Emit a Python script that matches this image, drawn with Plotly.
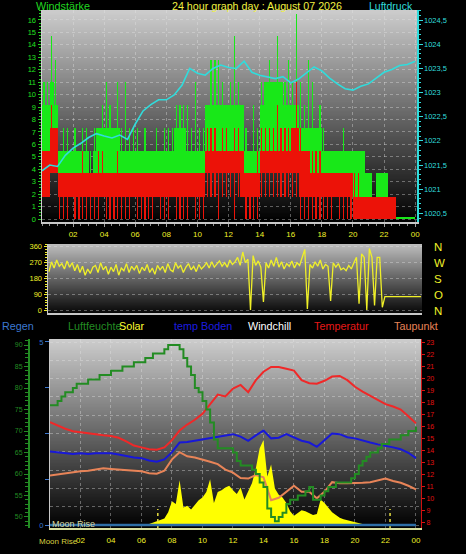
import base64
import struct
import zlib

import plotly.graph_objects as go

W, H = 466, 554

# ---------------- data ----------------
hour_ticks = [2, 4, 6, 8, 10, 12, 14, 16, 18, 20, 22, 24]
hour_labels = ["02", "04", "06", "08", "10", "12", "14", "16", "18", "20", "22", "00"]

# wind (km/h) in 15-minute bins: gust envelope + peaks, average envelope + min/peaks
wind_time = [i * 0.25 + 0.125 for i in range(96)]
gust_low = [5.5, 5.5, 5.5, 5.5, 3.7, 3.7, 3.7, 3.7, 3.7, 3.7, 3.7, 1.8, 1.8, 3.7, 3.7, 3.7,
            3.7, 3.7, 3.7, 3.7, 3.7, 3.7, 3.7, 3.7, 3.7, 3.7, 3.7, 3.7, 3.7, 3.7, 3.7, 3.7,
            3.7, 3.7, 3.7, 3.7, 3.7, 3.7, 3.7, 3.7, 3.7, 3.7, 5.5, 5.5, 5.5, 5.5, 5.5, 5.5,
            5.5, 5.5, 5.5, 5.5, 3.7, 3.7, 3.7, 3.7, 5.5, 5.5, 5.5, 5.5, 5.5, 5.5, 5.5, 5.5,
            5.5, 5.5, 3.7, 3.7, 3.7, 3.7, 3.7, 3.7, 3.7, 3.7, 3.7, 3.7, 3.7, 3.7, 3.7, 3.7,
            1.8, 1.8, 1.8, 1.8, 1.8, 1.5, 1.8, 1.8, 1.8, 1.5, 1.5, 0, 0, 0, 0, 0]
gust_high = [9.2, 9.2, 11.0, 9.2, 5.5, 5.5, 5.5, 5.5, 5.5, 5.5, 5.5, 5.5, 3.7, 5.5, 7.3, 7.3,
             7.3, 7.3, 7.3, 7.3, 5.5, 5.5, 5.5, 5.5, 5.5, 5.5, 5.5, 5.5, 5.5, 5.5, 5.5, 5.5,
             5.5, 5.5, 7.3, 7.3, 7.3, 5.5, 5.5, 5.5, 5.5, 5.5, 9.2, 9.2, 9.2, 9.2, 9.2, 9.2,
             9.2, 9.2, 9.2, 9.2, 5.5, 5.5, 5.5, 5.5, 9.2, 11.0, 11.0, 11.0, 11.0, 11.0, 9.2, 9.2,
             9.2, 9.2, 7.3, 7.3, 7.3, 7.3, 7.3, 7.3, 5.5, 5.5, 5.5, 5.5, 5.5, 5.5, 5.5, 5.5,
             5.5, 5.5, 5.5, 3.7, 3.7, 1.8, 3.7, 3.7, 3.7, 1.8, 1.8, 0.2, 0.2, 0.2, 0.2, 0.2]
gust_peak = [11.0, 11.0, 14.7, 12.8, 5.5, 7.3, 7.3, 5.5, 7.3, 5.5, 7.3, 7.3, 5.5, 7.3, 7.3, 9.2,
             11.0, 9.2, 7.3, 11.0, 7.3, 11.0, 7.3, 7.3, 7.3, 5.5, 7.3, 5.5, 5.5, 7.3, 5.5, 7.3,
             7.3, 7.3, 9.2, 9.2, 9.2, 9.2, 7.3, 11.0, 7.3, 7.3, 9.2, 12.8, 12.8, 12.8, 11.0, 9.2,
             11.0, 14.7, 11.0, 9.2, 7.3, 5.5, 9.2, 7.3, 11.0, 11.0, 12.8, 11.0, 14.7, 11.0, 11.0, 12.8,
             11.0, 16.5, 11.0, 9.2, 12.8, 11.0, 7.3, 9.2, 7.3, 5.5, 5.5, 5.5, 5.5, 7.3, 5.5, 5.5,
             5.5, 5.5, 5.5, 3.7, 3.7, 1.8, 3.7, 3.7, 3.7, 1.8, 1.8, 0.2, 0.2, 0.2, 0.2, 0.2]
avg_min = [1.8, 1.8, 3.7, 3.7, 0, 0, 0, 1.8, 0, 0, 0, 0, 0, 0, 0, 1.8,
           0, 0, 0, 0, 0, 0, 0, 1.8, 0, 0, 0, 0, 0, 1.8, 0, 0,
           0, 1.8, 0, 0, 0, 0, 1.8, 0, 0, 0, 1.8, 1.8, 1.8, 0, 1.8, 1.8,
           1.8, 0, 1.8, 1.8, 0, 0, 0, 0, 1.8, 1.8, 1.8, 1.8, 1.8, 1.8, 1.8, 1.8,
           1.8, 1.8, 0, 0, 0, 0, 0, 0, 0, 0, 0, 1.8, 0, 0, 0, 0,
           0, 0, 0, 0, 0, 0, 0, 0, 0, 0, 0, 0, 0, 0, 0, 0]
avg_low = [1.8, 1.8, 3.7, 3.7, 1.8, 1.8, 1.8, 1.8, 1.8, 1.8, 1.8, 1.8, 1.8, 1.8, 1.8, 1.8,
           1.8, 1.8, 1.8, 1.8, 1.8, 1.8, 1.8, 1.8, 1.8, 1.8, 1.8, 1.8, 1.8, 1.8, 1.8, 1.8,
           1.8, 1.8, 1.8, 1.8, 1.8, 1.8, 1.8, 1.8, 1.8, 1.8, 3.7, 3.7, 3.7, 3.7, 3.7, 3.7,
           3.7, 3.7, 3.7, 1.8, 1.8, 1.8, 1.8, 1.8, 3.7, 3.7, 3.7, 3.7, 3.7, 3.7, 3.7, 3.7,
           3.7, 3.7, 1.8, 1.8, 1.8, 1.8, 1.8, 1.8, 1.8, 1.8, 1.8, 1.8, 1.8, 1.8, 1.8, 1.8,
           0, 0, 0, 0, 0, 0, 0, 0, 0, 0, 0, 0, 0, 0, 0, 0]
avg_high = [5.5, 5.5, 7.3, 7.3, 3.7, 3.7, 3.7, 3.7, 3.7, 3.7, 3.7, 3.7, 3.7, 3.7, 3.7, 3.7,
            3.7, 3.7, 3.7, 3.7, 3.7, 3.7, 3.7, 3.7, 3.7, 3.7, 3.7, 3.7, 3.7, 3.7, 3.7, 3.7,
            3.7, 3.7, 3.7, 3.7, 3.7, 3.7, 3.7, 3.7, 3.7, 3.7, 5.5, 5.5, 5.5, 5.5, 5.5, 5.5,
            5.5, 5.5, 5.5, 5.5, 3.7, 3.7, 3.7, 3.7, 5.5, 5.5, 5.5, 5.5, 5.5, 5.5, 5.5, 5.5,
            7.3, 7.3, 5.5, 5.5, 5.5, 3.7, 3.7, 3.7, 3.7, 3.7, 3.7, 3.7, 3.7, 3.7, 3.7, 3.7,
            1.8, 1.8, 1.8, 1.8, 1.8, 1.8, 1.8, 1.8, 1.8, 1.8, 1.8, 0, 0, 0, 0, 0]
avg_peak = [5.5, 5.5, 9.2, 7.3, 3.7, 3.7, 3.7, 3.7, 3.7, 3.7, 5.5, 3.7, 3.7, 3.7, 5.5, 5.5,
            3.7, 3.7, 3.7, 5.5, 3.7, 3.7, 3.7, 3.7, 3.7, 3.7, 3.7, 3.7, 3.7, 3.7, 3.7, 3.7,
            3.7, 3.7, 3.7, 3.7, 3.7, 3.7, 3.7, 3.7, 3.7, 3.7, 7.3, 7.3, 7.3, 5.5, 7.3, 7.3,
            5.5, 7.3, 7.3, 5.5, 3.7, 3.7, 3.7, 5.5, 7.3, 7.3, 7.3, 7.3, 9.2, 7.3, 7.3, 7.3,
            7.3, 11.0, 7.3, 5.5, 5.5, 5.5, 5.5, 5.5, 3.7, 3.7, 3.7, 3.7, 3.7, 3.7, 3.7, 3.7,
            3.7, 3.7, 1.8, 1.8, 1.8, 1.8, 1.8, 1.8, 1.8, 1.8, 1.8, 0, 0, 0, 0, 0]

# pressure (hPa), half-hourly
half_hours = [i * 0.5 for i in range(49)]
pressure = [1021.38, 1021.50, 1021.47, 1021.70, 1021.85, 1021.95, 1022.07, 1022.15, 1022.10, 1022.06,
            1022.12, 1022.03, 1022.35, 1022.62, 1022.75, 1022.85, 1022.85, 1022.95, 1023.15, 1023.50,
            1023.40, 1023.36, 1023.50, 1023.57, 1023.52, 1023.50, 1023.65, 1023.42, 1023.36, 1023.32,
            1023.29, 1023.33, 1023.20, 1023.28, 1023.40, 1023.53, 1023.45, 1023.30, 1023.18, 1023.08,
            1023.05, 1023.13, 1023.18, 1023.30, 1023.42, 1023.48, 1023.56, 1023.58, 1023.65]

# wind direction (deg), every 10 minutes
dir_time = [i / 6 for i in range(145)]
wind_dir = [220, 275, 240, 285, 250, 265, 235, 280, 245, 270, 225, 260,
            215, 250, 200, 235, 210, 245, 255, 215, 270, 230, 250, 205,
            245, 220, 260, 200, 240, 225, 265, 215, 250, 230, 255, 210,
            245, 225, 260, 215, 240, 205, 255, 230, 250, 215, 265, 230,
            220, 270, 240, 255, 215, 245, 265, 230, 250, 220, 260, 235,
            250, 270, 240, 275, 245, 260, 280, 250, 270, 245, 285, 260,
            275, 300, 255, 330, 270, 290, 5, 310, 255, 280, 245, 50,
            270, 240, 285, 250, 300, 245, 275, 235, 265, 250, 280, 240,
            270, 255, 300, 345, 10, 260, 240, 275, 250, 285, 235, 260,
            250, 55, 270, 245, 265, 230, 240, 225, 255, 235, 270, 300,
            40, 320, 300, 5, 350, 300, 30, 300, 300, 20, 80, 80,
            80, 80, 80, 80, 80, 80, 80, 80, 80, 80, 80, 80, 80]
compass_vals = [0, 90, 180, 270, 360]
compass_text = ["N", "O", "S", "W", "N"]

# bottom panel, half-hourly temperatures (deg C)
temperatur = [16.4, 16.1, 15.85, 15.65, 15.55, 15.45, 15.4, 15.3, 15.25, 15.1, 14.8, 14.45, 14.3,
              14.15, 14.1, 14.3, 14.9, 15.7, 16.2, 16.6, 17.1, 17.9, 18.7, 18.55, 19.2, 19.5, 18.9,
              19.9, 20.6, 21.0, 21.0, 20.85, 20.7, 19.9, 19.65, 19.6, 19.85, 20.2, 20.25, 19.9, 19.35,
              18.95, 18.6, 18.25, 17.9, 17.7, 17.45, 16.9, 16.3]
temp_boden = [13.95, 13.9, 13.85, 13.75, 13.8, 13.75, 13.8, 13.8, 13.8, 13.7, 13.55, 13.45, 13.4,
              13.2, 13.1, 13.3, 13.9, 14.7, 14.75, 14.85, 14.95, 15.1, 15.2, 15.25, 15.4, 15.2, 14.85,
              15.3, 15.7, 15.05, 15.1, 15.4, 15.1, 14.85, 14.7, 14.35, 14.9, 15.45, 15.4, 15.15, 15.05,
              14.85, 14.7, 14.55, 14.45, 14.3, 14.15, 13.85, 13.4]
taupunkt = [11.95, 12.05, 12.15, 12.25, 12.3, 12.35, 12.45, 12.55, 12.5, 12.45, 12.4, 12.35, 12.3,
            12.15, 12.1, 12.35, 13.3, 13.9, 13.55, 13.45, 13.3, 13.1, 12.9, 12.45, 12.2, 11.75, 11.7,
            12.0, 11.8, 9.9, 10.1, 10.6, 11.1, 10.6, 10.6, 10.05, 10.6, 11.4, 11.3, 11.3, 11.3,
            11.35, 11.4, 11.55, 11.7, 11.5, 11.35, 11.1, 10.8]
# humidity (%), quarter-hourly
quarter_hours = [i * 0.25 for i in range(97)]
luftfeuchte = [76, 76, 77, 78, 79, 79, 80, 81, 81, 81, 82, 82, 82, 83, 83, 83,
               84, 84, 84, 85, 85, 85, 86, 86, 86, 87, 87, 88, 88, 88, 89, 90,
               90, 90, 89, 87, 85, 83, 80, 79, 77, 75, 72, 68, 66, 66, 66, 66,
               65, 63, 62, 62, 62, 61, 60, 58, 57, 52, 50, 49, 50, 51, 53, 54,
               54, 55, 55, 56, 57, 54, 54, 55, 56, 57, 57, 58, 58, 58, 58, 59,
               60, 62, 63, 64, 65, 65, 66, 67, 67, 68, 68, 68, 69, 69, 70, 70, 71]
# solar radiation (W/m2), quarter-hourly
solar = [0] * 25 + [0, 5, 12, 20, 25, 35, 70, 130, 115, 245, 95, 105, 85, 110, 135, 150,
                    180, 250, 120, 180, 190, 205, 215, 190, 170, 205, 140, 185, 230, 310, 420, 465,
                    265, 330, 200, 165, 150, 120, 75, 50, 65, 80, 75, 65, 55, 60, 140, 120,
                    95, 70, 55, 40, 32, 27, 22, 18, 10, 5, 0] + [0] * 13
regen_time = [0, 24]
regen = [0, 0]
moon_hours = [7.07, 22.3]

hum_ticks = [50, 55, 60, 65, 70, 75, 80, 85, 90]
temp_ticks = list(range(8, 24))
press_ticks = [1020.5, 1021, 1021.5, 1022, 1022.5, 1023, 1023.5, 1024, 1024.5]
press_text = ["1020,5", "1021", "1021,5", "1022", "1022,5", "1023", "1023,5", "1024", "1024,5"]

# ---------------- styles ----------------
FONT = "Liberation Sans, Arial, sans-serif"
GUST = "#18e818"
AVG = "#ec1208"
CYAN = "#30dcdc"
YEL = "#f0f028"
GRID = "rgba(230,230,230,0.38)"
C_REGEN = "#3c78d0"
C_HUM = "#238c23"
C_BODEN = "#1818d8"
C_TEMP = "#f02828"
C_TAU = "#e88458"


def px_x(v):
    return v / W


def px_y(v):
    return 1 - v / H


def gray_png(top, bottom, n=256):
    raw = b""
    for k in range(n):
        f = k / (n - 1)
        raw += b"\x00" + bytes([int(round(top + (bottom - top) * f))])

    def chunk(tag, data):
        c = struct.pack(">I", len(data)) + tag + data
        return c + struct.pack(">I", zlib.crc32(tag + data) & 0xFFFFFFFF)

    png = (b"\x89PNG\r\n\x1a\n"
           + chunk(b"IHDR", struct.pack(">IIBBBBB", 1, n, 8, 0, 0, 0, 0))
           + chunk(b"IDAT", zlib.compress(raw))
           + chunk(b"IEND", b""))
    return "data:image/png;base64," + base64.b64encode(png).decode()


def panel_bg(x0, x1, y0, y1, top, bottom):
    return dict(source=gray_png(top, bottom), xref="paper", yref="paper",
                x=px_x(x0), y=px_y(y0), sizex=px_x(x1) - px_x(x0), sizey=px_y(y0) - px_y(y1),
                sizing="stretch", xanchor="left", yanchor="top", layer="below")


fig = go.Figure()

# ---- panel 1: wind speed + pressure ----
fig.add_trace(go.Bar(
    x=wind_time, y=[h - l for h, l in zip(gust_high, gust_low)], base=gust_low, width=0.25,
    marker=dict(color=GUST, line=dict(width=0)),
    error_y=dict(type="data", symmetric=False,
                 array=[p - h for p, h in zip(gust_peak, gust_high)],
                 arrayminus=[0] * len(gust_high), color=GUST, thickness=1.2, width=0),
    xaxis="x", yaxis="y", hoverinfo="skip"))
fig.add_trace(go.Bar(
    x=wind_time, y=[h - l for h, l in zip(avg_high, avg_low)], base=avg_low, width=0.25,
    marker=dict(color=AVG, line=dict(width=0)),
    error_y=dict(type="data", symmetric=False,
                 array=[p - h for p, h in zip(avg_peak, avg_high)],
                 arrayminus=[h - m for h, m in zip(avg_high, avg_min)],
                 color=AVG, thickness=1.2, width=0),
    xaxis="x", yaxis="y", hoverinfo="skip"))
fig.add_trace(go.Scatter(x=half_hours, y=pressure, mode="lines",
                         line=dict(color=CYAN, width=1.6), xaxis="x", yaxis="y2", hoverinfo="skip"))

# ---- panel 2: wind direction ----
fig.add_trace(go.Scatter(x=dir_time, y=wind_dir, mode="lines",
                         line=dict(color=YEL, width=1.3), xaxis="x2", yaxis="y3", hoverinfo="skip"))
fig.add_trace(go.Scatter(x=[dir_time[0]], y=[wind_dir[0]], mode="markers",
                         marker=dict(opacity=0), xaxis="x2", yaxis="y4", hoverinfo="skip"))

# ---- panel 3 ----
fig.add_trace(go.Scatter(x=quarter_hours, y=solar, mode="lines", fill="tozeroy",
                         fillcolor="#ffff00", line=dict(color="#ffff00", width=0),
                         xaxis="x3", yaxis="y5", hoverinfo="skip"))
moon_x, moon_y = [], []
for m in moon_hours:
    moon_x += [m, m, None]
    moon_y += [-16, 88, None]
fig.add_trace(go.Scatter(x=moon_x, y=moon_y, mode="lines",
                         line=dict(color="#e8e040", width=1.5, dash="dot"),
                         xaxis="x3", yaxis="y5", hoverinfo="skip"))
fig.add_trace(go.Scatter(x=half_hours, y=temp_boden, mode="lines",
                         line=dict(color=C_BODEN, width=2), xaxis="x3", yaxis="y6", hoverinfo="skip"))
fig.add_trace(go.Scatter(x=half_hours, y=taupunkt, mode="lines",
                         line=dict(color=C_TAU, width=2), xaxis="x3", yaxis="y6", hoverinfo="skip"))
fig.add_trace(go.Scatter(x=half_hours, y=temperatur, mode="lines",
                         line=dict(color=C_TEMP, width=2), xaxis="x3", yaxis="y6", hoverinfo="skip"))
fig.add_trace(go.Scatter(x=quarter_hours, y=luftfeuchte, mode="lines", line_shape="hv",
                         line=dict(color=C_HUM, width=2), xaxis="x3", yaxis="y7", hoverinfo="skip"))
fig.add_trace(go.Scatter(x=regen_time, y=regen, mode="lines",
                         line=dict(color="#2e6ea6", width=2.5), xaxis="x3", yaxis="y8", hoverinfo="skip"))

images = [
    panel_bg(42, 417, 10, 222, 205, 0),
    panel_bg(48, 422, 244, 313, 190, 8),
    panel_bg(50, 421, 339, 528, 205, 0),
]

ann = []


def text(s, x, y, color, size, anchor="left"):
    ann.append(dict(text=s, x=px_x(x), y=px_y(y), xref="paper", yref="paper",
                    xanchor=anchor, yanchor="middle", showarrow=False,
                    font=dict(color=color, size=size, family=FONT)))


text("Windstärke", 34, 6, "#20d820", 10.8)
text("24 hour graph day : August 07 2026", 257, 6, "#f0f040", 10.7, "center")
text("Luftdruck", 415, 6, CYAN, 10.5, "right")
text("Regen", 0, 326, C_REGEN, 10.8)
text("Luftfeuchte", 66, 326, C_HUM, 10.8)
text("Solar", 117, 326, "#ffff30", 10.8)
text("temp Boden", 172, 326, "#1c1ce0", 10.8)
text("Windchill", 246, 326, "#ffffff", 10.8)
text("Temperatur", 312, 326, "#e81818", 10.8)
text("Taupunkt", 392, 326, C_TAU, 10.8)
text("Moon Rise", 50, 524, "#d8d8a0", 9)
text("Moon Rise", 37, 541, "#d8d040", 8)

common_grid = dict(showgrid=True, gridcolor=GRID, griddash="dot", gridwidth=1, zeroline=False)

fig.update_layout(
    width=W, height=H, autosize=False, template="none",
    margin=dict(l=0, r=0, t=0, b=0),
    paper_bgcolor="#000000", plot_bgcolor="#000000",
    font=dict(family=FONT, color="#ffffff"),
    showlegend=False, barmode="overlay", bargap=0,
    images=images, annotations=ann,
    xaxis=dict(domain=[px_x(42), px_x(417)], range=[0, 24.12], anchor="y",
               tickvals=hour_ticks, ticktext=hour_labels,
               tickfont=dict(color=YEL, size=8), ticks="outside", ticklen=3, tickcolor="#a0a0a0",
               minor=dict(tickmode="linear", tick0=0, dtick=0.5, ticks="outside", ticklen=2,
                          tickcolor="#909090"),
               showline=True, linecolor="#c8c8c8", linewidth=2, automargin=False,
               fixedrange=True, **common_grid),
    yaxis=dict(domain=[px_y(222), px_y(10)], range=[-0.24, 16.8], anchor="x",
               tickmode="linear", tick0=0, dtick=1,
               tickfont=dict(color="#20e020", size=7.5), ticks="outside", ticklen=3, tickcolor="#20d020",
               minor=dict(dtick=0.25, ticks="outside", ticklen=2, tickcolor="#20d020"),
               showline=True, linecolor="#d0d0d0", linewidth=1.5, automargin=False,
               fixedrange=True, **common_grid),
    yaxis2=dict(overlaying="y", side="right", anchor="x", range=[1020.32, 1024.71],
                tickvals=press_ticks, ticktext=press_text,
                tickfont=dict(color=CYAN, size=7.5), ticks="outside", ticklen=4, tickcolor=CYAN,
                minor=dict(dtick=0.1, ticks="outside", ticklen=2, tickcolor=CYAN),
                showline=True, linecolor=CYAN, linewidth=1.5, showgrid=False, zeroline=False,
                automargin=False, fixedrange=True),
    xaxis2=dict(domain=[px_x(48), px_x(422)], range=[-0.06, 24.06], anchor="y3",
                showticklabels=False, ticks="", showgrid=False, zeroline=False,
                showline=True, linecolor="#c8c8c8", linewidth=2, automargin=False, fixedrange=True),
    yaxis3=dict(domain=[px_y(313), px_y(244)], range=[-12, 375], anchor="x2",
                tickvals=compass_vals, tickfont=dict(color=YEL, size=7.5),
                ticks="outside", ticklen=3, tickcolor=YEL,
                minor=dict(dtick=15, ticks="outside", ticklen=2, tickcolor=YEL),
                showline=True, linecolor="#c8c8c8", linewidth=1.5, automargin=False,
                fixedrange=True, **common_grid),
    yaxis4=dict(overlaying="y3", side="right", anchor="x2", range=[-12, 375],
                tickvals=compass_vals, ticktext=compass_text,
                tickfont=dict(color=YEL, size=11.5), ticks="", ticklabelstandoff=11,
                showgrid=False, zeroline=False, showline=False, automargin=False, fixedrange=True),
    xaxis3=dict(domain=[px_x(50), px_x(421)], range=[0, 24.33], anchor="y5",
                tickvals=hour_ticks, ticktext=hour_labels,
                tickfont=dict(color=YEL, size=8), ticks="", ticklabelstandoff=3,
                showline=True, linecolor="#d8e0a0", linewidth=2, automargin=False,
                fixedrange=True, **common_grid),
    yaxis5=dict(domain=[px_y(528), px_y(339)], range=[-16.4, 1016.4], anchor="x3",
                tickmode="linear", tick0=0, dtick=100, showticklabels=False, ticks="",
                showline=True, linecolor="#c8c8c8", linewidth=1.5, automargin=False,
                fixedrange=True, **common_grid),
    yaxis6=dict(overlaying="y5", side="right", anchor="x3", range=[7.58, 23.33],
                tickvals=temp_ticks, tickfont=dict(color="#e01010", size=7),
                ticks="outside", ticklen=3, tickcolor="#e01010",
                showline=True, linecolor="#d01010", linewidth=1, showgrid=False, zeroline=False,
                automargin=False, fixedrange=True),
    yaxis7=dict(overlaying="y5", side="left", anchor="free", position=px_x(29),
                range=[47.44, 91.4], tickvals=hum_ticks,
                tickfont=dict(color=C_HUM, size=7), ticks="outside", ticklen=4, tickcolor=C_HUM,
                minor=dict(dtick=1, ticks="outside", ticklen=3, tickcolor=C_HUM),
                showline=True, linecolor=C_HUM, linewidth=2, showgrid=False, zeroline=False,
                automargin=False, fixedrange=True),
    yaxis8=dict(overlaying="y5", side="left", anchor="x3", range=[-0.08, 5.08],
                tickvals=[0, 1.25, 2.5, 3.75, 5], ticktext=["0", "", "", "", "5"],
                tickfont=dict(color=C_REGEN, size=7.5), ticks="outside", ticklen=4,
                tickcolor=C_REGEN, showline=False, showgrid=False, zeroline=False,
                automargin=False, fixedrange=True),
)

fig.write_html("out.html", config={"displayModeBar": False, "staticPlot": True},
               post_script="document.body.style.margin='0px';"
                           "document.body.style.overflow='hidden';")
